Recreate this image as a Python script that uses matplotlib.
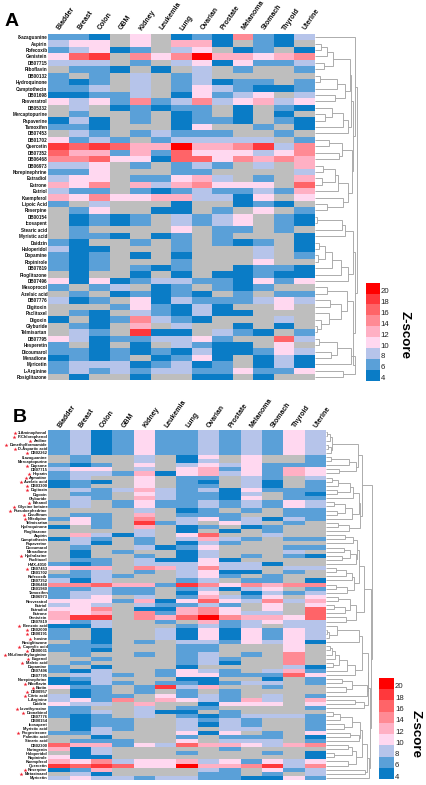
import matplotlib
matplotlib.use("Agg")
import matplotlib.pyplot as plt
from matplotlib.colors import ListedColormap, BoundaryNorm

plt.rcParams['font.family'] = ['Liberation Sans', 'DejaVu Sans']

W, H = 426, 785
tumours = ["Bladder", "Breast", "Colon", "GBM", "Kidney", "Leukemia", "Lung", "Ovarian",
           "Prostate", "Melanoma", "Stomach", "Thyroid", "Uterine"]
levels = [4, 6, 8, 10, 12, 14, 16, 18, 20]
colors = ['#bebebe', '#0a7cc6', '#5aa0d8', '#b6c4ea', '#ffd8f0', '#ffb0c4', '#ff8a94',
          '#ff6468', '#ff383c', '#ff0000']

drugs_a = ["8-azaguanine", "Aspirin", "Rofecoxib", "Genistein", "DB07715", "Riboflavin", "DB00132",
           "Hydroquinone", "Camptothecin", "DB01698", "Resveratrol", "DB05332", "Mercaptopurine",
           "Papaverine", "Tamoxifen", "DB07453", "DB01702", "Quercetin", "DB07352", "DB06468",
           "DB06973", "Norepinephrine", "Estradiol", "Estrone", "Estriol", "Kaempferol", "Lipoic Acid",
           "Reserpine", "DB00154", "Icosapent", "Stearic acid", "Myristic acid", "Daidzin",
           "Haloperidol", "Dopamine", "Ropinirole", "DB07819", "Pioglitazone", "DB07496", "Masoprocol",
           "Azelaic acid", "DB07776", "Digitoxin", "Paclitaxel", "Digoxin", "Glyburide", "Telmisartan",
           "DB07795", "Hesperetin", "Dicoumarol", "Menadione", "Myricetin", "L-Arginine", "Rosiglitazone"]

zscores_a = [
    [6,6,4,0,10,0,4,6,4,14,6,4,8],
    [8,10,10,0,10,0,12,12,4,0,6,4,0],
    [6,8,10,4,6,0,8,10,0,4,6,0,4],
    [10,16,18,0,14,10,14,20,12,12,10,12,14],
    [8,8,8,0,6,0,8,10,4,10,6,6,8],
    [0,6,6,4,0,4,0,8,0,6,0,0,6],
    [6,0,6,0,8,0,6,8,0,0,0,0,0],
    [6,4,6,0,8,0,6,8,4,6,6,0,6],
    [6,6,8,0,8,0,6,10,8,6,4,4,6],
    [4,4,6,6,8,0,4,10,6,8,10,0,8],
    [10,8,10,6,14,6,8,14,8,10,12,8,10],
    [0,8,0,4,6,4,6,6,0,4,0,6,4],
    [0,6,0,0,6,0,4,6,0,4,0,4,0],
    [4,8,4,0,6,0,4,6,6,4,0,6,4],
    [6,6,4,0,0,0,4,10,0,0,6,0,4],
    [0,8,6,0,6,8,6,6,6,0,0,6,0],
    [10,6,8,6,0,6,8,8,8,8,8,0,6],
    [18,16,18,16,12,12,20,12,12,14,18,8,14],
    [16,12,12,6,12,6,16,10,10,10,8,10,14],
    [14,14,16,10,10,4,16,16,10,14,12,14,12],
    [8,8,10,0,6,0,6,8,6,0,8,0,12],
    [6,6,10,0,0,0,6,6,0,0,0,0,8],
    [8,10,10,0,6,6,10,12,8,0,6,0,12],
    [12,10,14,0,12,8,12,14,10,10,10,0,16],
    [8,6,6,0,6,4,6,8,6,6,8,6,12],
    [12,10,14,10,10,12,12,8,8,4,10,0,10],
    [6,0,8,0,0,0,4,0,0,4,6,4,0],
    [0,6,10,0,0,4,4,0,6,0,10,0,6],
    [0,4,6,4,6,0,8,6,8,10,0,6,4],
    [0,4,6,4,6,0,8,6,8,10,0,6,4],
    [0,6,0,0,0,0,10,0,6,6,0,6,0],
    [0,6,6,4,0,4,6,0,6,0,0,0,4],
    [6,4,0,0,6,0,6,0,6,4,6,0,4],
    [8,4,4,0,0,0,6,0,0,0,8,0,4],
    [6,4,6,0,4,0,4,0,0,0,8,0,6],
    [6,4,6,0,0,0,6,0,0,0,10,0,0],
    [6,4,6,0,6,4,6,0,0,4,6,6,4],
    [0,4,0,0,4,0,4,0,4,4,6,4,4],
    [10,4,10,4,6,8,8,6,6,4,10,6,10],
    [6,0,6,8,0,4,6,0,6,4,6,0,0],
    [0,6,0,4,6,4,6,4,0,6,0,6,6],
    [8,4,6,0,10,4,8,6,6,6,8,10,8],
    [0,0,0,6,10,6,4,8,4,0,0,10,0],
    [0,6,4,0,8,6,4,8,4,4,0,0,0],
    [4,0,4,6,14,8,6,4,0,0,0,8,0],
    [0,6,4,0,12,0,8,0,0,4,0,4,0],
    [0,8,6,0,18,4,4,0,8,6,4,0,6],
    [10,8,4,6,6,8,8,10,6,0,0,16,8],
    [6,0,4,0,4,0,8,6,4,4,0,10,0],
    [6,6,4,6,4,6,4,8,4,4,6,10,8],
    [4,6,4,6,0,4,6,10,4,0,4,8,4],
    [6,8,8,8,4,6,8,4,6,0,4,8,4],
    [6,8,6,8,6,8,8,6,6,10,6,6,10],
    [0,4,0,0,4,0,0,4,4,0,4,0,0],
]

drugs_b = ["3-Aminophenol", "P-Chlorophenol", "Aniline", "Dimethylformamide", "D-Aspartic acid", "DB02262",
           "8-azaguanine", "Mercaptopurine", "Dapsone", "DB07715", "Heparin", "Agmatine", "Azelaic acid",
           "DB03300", "Digitoxin", "Digoxin", "Glyburide", "Ethanol", "Glycine betaine", "Pseudoephedrine",
           "Disulfiram", "Nifedipine", "Telmisartan", "Hydroquinone", "Pioglitazone", "Aspirin",
           "Camptothecin", "Papaverine", "Dicoumarol", "Menadione", "Hydralazine", "Paclitaxel", "HMX-4010",
           "DB07453", "DB01702", "Rofecoxib", "DB07352", "DB06468", "DB01980", "Tamoxifen", "DB06973",
           "Resveratrol", "Estriol", "Estradiol", "Estrone", "Genistein", "DB07819", "Benzoic acid",
           "DB02000", "DB00191", "Inosine", "Rosiglitazone", "Caprylic acid", "DB00031",
           "NN-dimethylarginine", "Eugenol", "Maleic acid", "Dopamine", "DB07496", "DB07795",
           "Norepinephrine", "Riboflavin", "Biotin", "DB00957", "Citric acid", "L-Arginine", "Daidzin",
           "Levothyroxine", "Dronabinol", "DB07776", "DB00154", "Icosapent", "Myristic acid", "Progesterone",
           "Palmitic acid", "Stearic acid", "DB02300", "Naringenin", "Haloperidol", "Ropinirole",
           "Kaempferol", "Quercetin", "Reserpine", "Metaxinazol", "Myricetin"]

starred_b = [1, 2, 3, 4, 5, 6, 9, 11, 12, 13, 14, 15, 18, 19, 20, 21, 22, 31, 34, 48, 49, 50, 51,
             53, 54, 55, 56, 57, 62, 63, 64, 65, 68, 69, 74, 83, 84]

zscores_b = [
    [6,8,4,6,10,6,6,8,6,8,6,10,8],
    [6,8,4,6,10,6,6,8,6,8,6,10,8],
    [6,8,4,6,10,6,6,8,6,8,6,10,8],
    [6,8,4,6,10,6,6,8,6,8,6,10,8],
    [6,8,4,6,10,6,6,8,6,8,6,10,8],
    [6,8,4,6,10,6,6,8,6,8,6,10,8],
    [0,6,0,0,8,0,4,10,0,10,0,0,6],
    [0,6,0,0,8,0,4,8,0,10,0,0,6],
    [6,4,6,0,10,0,8,10,8,10,6,6,6],
    [8,10,10,0,8,0,10,12,6,10,6,12,10],
    [6,8,8,6,12,4,10,12,8,10,6,12,10],
    [6,8,0,0,10,0,6,6,0,8,6,0,8],
    [4,6,4,0,10,0,6,4,0,8,4,0,6],
    [4,6,0,0,10,0,6,6,0,8,4,0,6],
    [0,8,6,8,12,8,6,8,4,10,6,6,6],
    [0,6,6,0,10,8,6,6,4,8,0,6,4],
    [0,8,6,0,12,8,6,6,4,10,0,6,6],
    [6,8,0,6,10,6,6,8,6,8,6,10,8],
    [6,8,0,6,10,6,6,8,6,8,6,10,8],
    [0,0,0,0,8,0,4,6,0,6,0,6,6],
    [0,6,6,0,12,0,6,6,6,0,0,6,6],
    [6,10,6,0,14,0,8,10,6,8,4,8,6],
    [0,10,6,0,18,6,8,0,10,8,0,6,0],
    [4,0,6,0,12,0,4,6,0,4,6,0,0],
    [0,0,0,0,8,0,4,0,4,0,6,0,0],
    [0,12,8,4,8,0,10,16,0,0,8,0,0],
    [4,8,6,0,6,0,8,12,8,6,0,6,6],
    [0,8,4,0,6,0,4,8,6,0,0,0,0],
    [0,6,0,0,8,4,6,10,0,0,0,6,6],
    [0,4,0,6,0,0,4,8,0,0,0,8,0],
    [0,4,0,0,6,0,4,8,0,6,0,6,4],
    [0,6,6,0,8,4,4,10,4,0,0,0,0],
    [6,4,6,0,8,8,8,10,8,8,4,0,0],
    [10,12,12,0,14,12,8,14,8,8,0,8,8],
    [0,6,8,0,6,0,8,10,4,4,0,6,0],
    [6,6,8,6,0,0,8,10,6,0,6,0,0],
    [8,4,8,0,0,0,6,8,0,6,6,0,4],
    [14,14,16,12,12,6,18,14,10,14,12,14,14],
    [6,6,8,6,6,0,6,8,4,8,10,0,6],
    [6,8,8,6,6,0,4,10,0,4,8,6,8],
    [6,8,10,0,8,0,6,12,8,6,10,0,10],
    [10,10,10,6,12,4,10,16,10,8,14,8,12],
    [8,10,8,0,8,6,6,8,6,0,10,0,10],
    [10,10,14,0,4,4,12,14,10,0,10,0,16],
    [12,10,12,0,14,6,12,14,10,8,8,0,16],
    [12,18,18,0,14,12,16,20,14,12,12,10,16],
    [10,6,8,0,0,6,0,12,6,8,10,8,8],
    [4,4,8,0,0,0,6,8,6,8,0,8,8],
    [6,0,4,0,0,8,4,10,4,10,6,10,8],
    [6,0,4,0,0,8,4,10,4,10,6,10,8],
    [6,0,4,0,0,8,4,10,4,10,6,10,8],
    [0,6,4,0,6,0,8,8,6,10,8,10,4],
    [6,6,6,0,0,0,6,6,0,0,0,10,0],
    [6,6,4,0,0,0,6,6,0,0,0,10,0],
    [0,6,0,0,6,0,6,8,0,6,0,14,0],
    [0,0,6,0,0,0,6,8,6,0,0,14,0],
    [0,6,0,0,0,0,6,8,4,0,0,14,0],
    [6,0,4,0,0,0,4,0,0,0,0,8,4],
    [6,4,8,0,0,6,10,8,6,0,8,12,6],
    [0,8,8,6,0,6,10,10,6,6,6,16,10],
    [4,6,8,0,0,0,4,4,0,0,4,0,6],
    [4,4,8,6,0,6,6,4,6,8,8,0,6],
    [10,6,6,0,6,18,8,12,0,0,6,0,0],
    [0,4,6,0,6,0,6,0,6,0,0,0,0],
    [8,4,6,6,0,10,6,8,6,0,8,0,6],
    [8,10,6,14,0,12,10,8,6,12,8,0,12],
    [10,8,8,0,12,0,0,4,10,10,10,0,10],
    [6,6,0,0,8,0,6,6,0,0,0,0,6],
    [6,6,8,0,8,4,4,0,6,0,0,0,0],
    [6,4,6,0,8,0,6,4,6,8,8,8,6],
    [0,4,6,6,0,0,8,6,8,6,0,0,6],
    [0,4,6,6,0,0,8,4,8,6,0,0,6],
    [0,4,8,6,0,0,8,0,8,8,0,0,6],
    [6,6,8,0,0,0,10,4,10,0,6,0,10],
    [0,0,4,0,0,0,6,0,6,6,6,0,4],
    [0,6,6,6,0,0,10,0,8,8,8,0,6],
    [16,12,12,6,10,8,16,12,12,10,8,12,14],
    [12,4,8,0,0,0,0,0,6,0,0,0,0],
    [0,4,8,0,0,0,6,0,0,0,6,0,4],
    [10,4,4,0,0,0,0,0,0,0,0,0,4],
    [12,10,14,8,10,10,12,8,10,6,10,8,10],
    [18,16,18,16,10,10,20,12,12,14,18,8,14],
    [4,6,12,0,0,0,0,8,6,0,10,6,8],
    [0,8,4,0,0,0,0,6,6,0,6,0,8],
    [8,10,8,8,6,8,8,6,6,4,4,10,6],
]

# Row dendrograms: each merge is [distance, upper branch, lower branch]; L is a single row.
L = None
a_t1 = [18, [12, [6, L, L], L], [8.5, L, L]]
a_t2 = [30, [21.5, [5, L, L], L], [20, L, L]]
a_t3 = [33, [28, [17, L, [10, L, L]], L], L]
a_t4 = [36.5, [27, [14, L, L], [24, L, L]],
        [33, [23, [20, [8, L, L], [7, L, L]], L], [28, L, [12, L, L]]]]
a_t5 = [30, [26.5, [2, L, L], L], L]
a_t6 = [33, [26, [17, [10, [4, L, L], [2.5, L, L]], L], L], L]
a_t7 = [32, [12, L, L], [26, [15, L, L], [14, L, [6, L, [2, L, L]]]]]
a_t8 = [40, [36, [22, [4, L, L], [15.5, L, L]], L], [27.5, L, L]]
tree_a = [41.5, [40, L, [38, [35.5, [35, a_t1, a_t2], a_t3], a_t4]],
          [39.5, [37.5, a_t5, a_t6], [38, a_t7, a_t8]]]

b_r1_6 = [6, [4, [1, L, L], L], [5, [2, L, L], L]]
b_c1 = [30, [23, [5, L, L], L], [13, L, L]]
b_c2 = [33, [27, [24, [12, [6, L, L], L], [11, L, L]], L], [26, [19, [8, L, L], [11, L, L]], L]]
b_c3 = [23, [12, L, L], L]
b_clade1 = [36, [32, b_r1_6, b_c1], [33.5, b_c2, b_c3]]
b_d1 = [27, [19, L, L], L]
b_d2 = [30, [24, [18, L, L], [16, L, L]], L]
b_d3 = [26, [20, [10, L, L], L], L]
b_d4 = [21, [10, L, L], L]
b_d5 = [30, [24, [12, L, L], [19, [8, L, L], L]], [20, L, L]]
b_clade2 = [38, [33, [31, b_d1, b_d2], [28, b_d3, b_d4]], b_d5]
b_e1 = [33, [11, L, [3, [1, L, L], L]], L]
b_e2 = [29, [21, [13, [9, [6, [4, L, L], L], L], [7, L, L]], L], L]
b_e3 = [41, [26, [16, L, L], [20, L, L]], L]
b_e4 = [38, [29, L, L], L]
b_e5a = [26, [14, [7, L, L], L], [18, L, L]]
b_e5b = [33, [24, L, L], L]
b_e5c = [22, L, L]
b_e5d = [8, L, L]
b_e5e = [22, L, L]
b_g = [36, [34, b_e5a, b_e5b], [30, [26, b_e5c, b_e5d], b_e5e]]
b_h = [43, [41, b_g, [39, L, L]], L]
tree_b = [46, b_clade1, [45, b_clade2, [44, [42, [41.5, [36, b_e1, b_e2], b_e3], b_e4], b_h]]]

cmap = ListedColormap(colors)
norm = BoundaryNorm([-1, 1] + [v + 1 for v in levels], cmap.N)

fig = plt.figure(figsize=(W / 100, H / 100), dpi=100)


def px_axes(x0, y0, x1, y1):
    return fig.add_axes([x0 / W, 1 - y1 / H, (x1 - x0) / W, (y1 - y0) / H])


overlay = px_axes(0, 0, W, H)
overlay.set_xlim(0, W)
overlay.set_ylim(H, 0)
overlay.axis('off')


def draw_tree(ax, node, next_leaf):
    if node is None:
        y = next_leaf[0] + 0.5
        next_leaf[0] += 1
        return y, 0.0
    dist, upper, lower = node
    y1, h1 = draw_tree(ax, upper, next_leaf)
    y2, h2 = draw_tree(ax, lower, next_leaf)
    ax.plot([h1, dist, dist, h2], [y1, y1, y2, y2], color='#a6a6a6', lw=0.65,
            solid_joinstyle='miter', solid_capstyle='butt')
    return (y1 + y2) / 2, dist


def panel(box, rows, labels, tree, label_size, letter, letter_xy, bar_box, z_xy, head_y, tree_width):
    x0, y0, x1, y1 = box
    ax = px_axes(x0, y0, x1, y1)
    ax.pcolormesh(range(len(tumours) + 1), range(len(rows) + 1), rows, cmap=cmap, norm=norm,
                  edgecolors='none', antialiased=False)
    ax.set_xlim(0, len(tumours))
    ax.set_ylim(len(rows), 0)
    for s in ax.spines.values():
        s.set_visible(False)
    ax.xaxis.tick_top()
    ax.set_xticks([i + 0.5 for i in range(len(tumours))])
    ax.set_xticklabels(tumours, rotation=55, ha='left', va='center', rotation_mode='anchor',
                       fontsize=5, fontweight='bold', color='#111111')
    ax.tick_params(axis='x', length=0, pad=head_y)
    ax.set_yticks([i + 0.5 for i in range(len(rows))])
    ax.set_yticklabels(labels, fontsize=label_size, fontweight='bold', color='#111111')
    ax.tick_params(axis='y', length=0, pad=0.6)

    d = px_axes(x1, y0, x1 + tree_width, y1)
    d.set_xlim(0, tree_width)
    d.set_ylim(len(rows), 0)
    d.axis('off')
    leaf = [0]
    draw_tree(d, tree, leaf)
    assert leaf[0] == len(rows)

    overlay.text(*letter_xy, letter, fontsize=14, fontweight='bold', ha='left', va='center', color='black')

    cb = px_axes(*bar_box)
    cb.pcolormesh([0, 1], range(len(levels) + 1), [[v] for v in levels], cmap=cmap, norm=norm,
                  edgecolors='none', antialiased=False)
    cb.set_xlim(0, 1)
    cb.set_ylim(0, len(levels))
    cb.set_xticks([])
    for s in cb.spines.values():
        s.set_visible(False)
    cb.yaxis.tick_right()
    cb.set_yticks([i + 0.5 for i in range(len(levels))])
    cb.set_yticklabels([str(v) for v in levels], fontsize=5.6, va='top', color='#222222')
    cb.tick_params(axis='y', length=0, pad=0.8)
    overlay.text(*z_xy, "Z-score", rotation=-90, fontsize=9.6, fontweight='bold', ha='center', va='center')
    return ax


panel((48.3, 34, 315, 380.5), zscores_a, drugs_a, tree_a, 3.3, 'A', (4.5, 21),
      (365.7, 282.7, 379.7, 380.7), (404.5, 335), 3.2, 43)
ax_b = panel((48.3, 430.3, 326, 780), zscores_b, drugs_b, tree_b, 2.9, 'B', (12.5, 417),
             (378.7, 677.7, 394, 779.3), (415.7, 734), 2.4, 47)

fig.canvas.draw()
renderer = fig.canvas.get_renderer()
for row in starred_b:
    bbox = ax_b.get_yticklabels()[row - 1].get_window_extent(renderer)
    overlay.plot(bbox.x0 - 3.5, H - (bbox.y0 + bbox.y1) / 2, marker='*', ms=3.0, mfc='#f02030',
                 mec='none', ls='none')

fig.savefig('out.png', dpi=100)
